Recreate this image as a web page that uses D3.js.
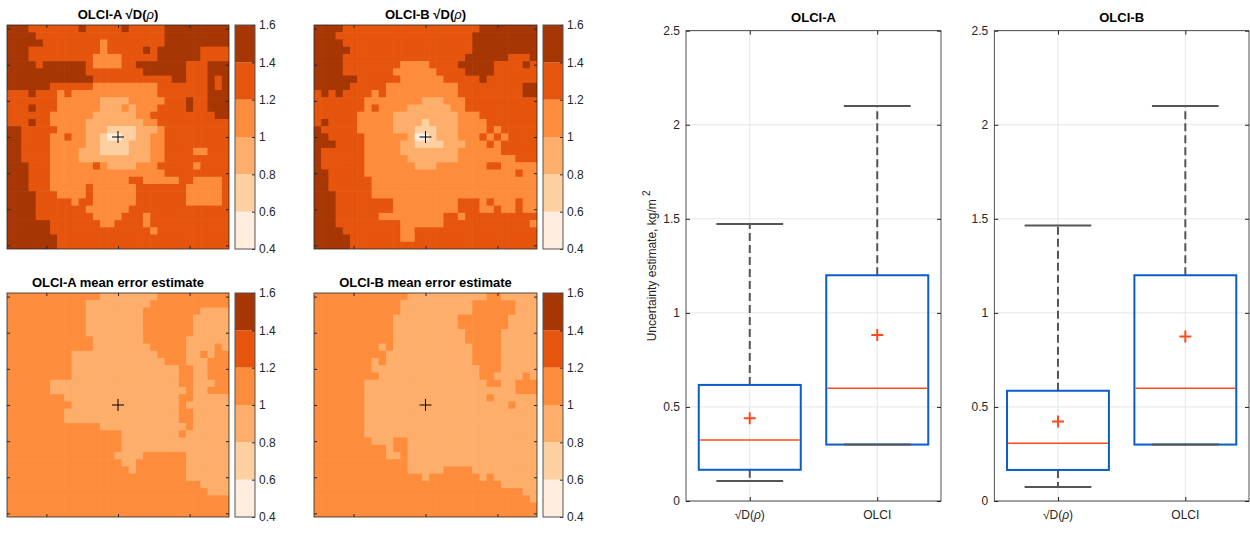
<!DOCTYPE html>
<html>
<head>
<meta charset="utf-8">
<script src="https://cdn.jsdelivr.net/npm/d3@7"></script>
<style>
  body { margin: 0; background: #fff; }
  svg { font-family: "Liberation Sans", Arial, sans-serif; }
</style>
</head>
<body>
<div id="chart"></div>
<script>
// class index per cell (0..5 -> bins 0.4-0.6 ... 1.4-1.6), rows run-length coded "class:count"
let gridSqrtA = [
  "5:3 4:7 5:1 4:5 5:1 4:5 5:9", "5:4 4:18 5:9", "5:5 4:8 3:1 4:8 5:9",
  "5:3 4:10 3:1 4:5 5:1 4:1 5:6 4:4", "5:3 4:9 3:4 4:5 5:6 4:4",
  "5:4 4:1 5:6 4:1 3:4 4:2 5:7 4:3 5:3", "5:11 4:8 5:6 4:3 5:3",
  "5:12 4:11 5:2 4:3 5:1 4:1 5:1", "5:6 4:6 3:9 4:7 5:1 4:1 5:1",
  "4:3 5:1 4:3 3:1 4:1 3:12 4:7 5:3",
  "4:7 3:6 2:4 3:5 4:3 5:1 4:2 5:3", "4:3 5:1 4:3 3:6 2:3 3:1 2:1 3:3 4:4 5:1 4:2 5:3",
  "4:6 3:6 2:6 3:2 4:9 5:2", "4:3 5:1 4:2 3:5 2:8 3:2 4:10",
  "5:2 4:5 3:4 2:3 1:4 2:3 3:1 4:9", "5:2 4:4 3:2 4:1 3:2 2:2 1:1 0:2 1:2 2:2 3:2 4:9",
  "5:2 4:4 3:5 2:2 1:4 2:3 3:2 4:9", "5:2 4:4 3:4 2:3 1:4 2:3 3:2 4:4 3:2 4:3",
  "5:2 4:4 3:4 2:10 3:2 4:9", "5:3 4:3 3:6 4:1 3:1 2:4 3:3 4:5 3:1 4:4",
  "5:3 4:3 3:16 4:9", "5:3 4:3 3:11 4:2 3:5 4:2 3:4 4:1",
  "5:3 4:3 3:5 4:1 3:6 4:7 3:5 4:1", "5:4 4:3 3:4 4:1 3:6 4:7 3:5 4:1",
  "5:4 4:5 3:1 4:2 3:6 4:7 3:5 4:1", "5:4 4:7 3:6 4:14",
  "5:4 4:8 3:4 4:3 3:1 4:11", "5:6 4:7 3:2 4:4 3:1 4:11",
  "5:6 4:14 3:1 4:10", "5:7 4:24", "5:7 4:24"
];
let gridSqrtB = [
  "5:4 4:19 5:8", "5:3 4:19 5:9", "5:4 4:18 5:9", "5:5 4:17 5:9", "5:4 4:17 5:6 4:3 5:1",
  "5:4 4:8 3:4 4:4 5:5 4:4 5:1 4:1", "5:4 4:7 3:6 4:4 5:4 4:6", "5:6 4:6 3:6 4:5 5:1 4:7",
  "5:5 4:5 3:10 4:9 5:2", "4:1 5:1 4:1 5:1 4:4 3:1 4:1 3:10 4:9 5:2",
  "4:7 3:8 2:3 3:3 4:10", "4:7 3:1 4:1 3:4 2:6 3:2 4:10", "4:6 3:5 2:9 3:3 4:8",
  "4:1 5:1 4:4 3:5 2:4 1:1 2:4 3:4 4:7", "5:1 4:5 3:5 2:3 1:3 2:3 3:4 4:1 3:1 4:5",
  "5:2 4:5 3:6 2:1 0:2 1:1 2:3 3:3 4:1 3:1 4:1 3:1 4:4",
  "5:3 4:4 3:5 2:2 1:4 2:3 3:3 4:1 3:1 4:5", "5:1 4:6 3:5 2:8 3:6 4:5",
  "5:1 4:6 3:6 2:7 3:8 4:3", "5:1 4:6 3:7 2:3 3:7 4:2 3:5",
  "5:2 4:5 3:21 4:1 3:2", "5:2 4:6 3:23", "5:2 4:6 3:23", "5:3 4:5 3:23",
  "5:3 4:8 3:9 4:3 3:1 4:1 3:3 4:1 3:2", "5:3 4:8 3:9 4:3 3:2 4:1 3:2 4:1 3:2",
  "5:3 4:6 3:9 4:2 3:1 4:10", "5:3 4:9 3:6 4:12 3:1", "5:4 4:8 3:2 4:17",
  "5:5 4:7 3:2 4:17", "5:5 4:26"
];
let gridMeanA = [
  "3:13 2:8 3:10", "3:11 2:9 3:11", "3:11 2:8 3:8 2:4", "3:11 2:8 3:7 2:5", "3:11 2:8 3:7 2:5",
  "3:11 2:8 3:7 2:5", "3:12 2:7 3:6 2:6", "3:12 2:8 3:5 2:4 3:1 2:1",
  "3:9 2:12 3:4 2:2 3:1 2:1 3:2", "3:9 2:13 3:3 2:3 3:3", "3:9 2:15 3:2 2:2 3:3",
  "3:9 2:15 3:2 2:2 3:3", "3:6 2:18 3:2 2:3 3:2", "3:6 2:19 3:1 2:2 3:3", "3:8 2:16 3:2 2:5",
  "3:9 2:15 3:1 2:6", "3:8 2:16 3:2 2:5", "3:8 2:16 3:2 2:5", "3:13 2:12 3:1 2:5",
  "3:16 2:8 3:1 2:6", "3:16 2:15", "3:16 2:15", "3:15 2:4 3:6 2:6", "3:16 2:2 3:7 2:6",
  "3:17 2:1 3:7 2:6", "3:25 2:6", "3:27 2:4", "3:28 2:3", "3:31", "3:31", "3:31"
];
let gridMeanB = [
  "3:13 2:11 3:2 2:5", "3:12 2:10 3:6 2:3", "3:12 2:10 3:6 2:3", "3:11 2:9 3:7 2:4",
  "3:11 2:9 3:7 2:4", "3:11 2:10 3:5 2:5", "3:11 2:10 3:5 2:5", "3:9 2:1 3:1 2:11 3:4 2:5",
  "3:10 2:12 3:4 2:5", "3:8 2:1 3:1 2:12 3:4 2:5", "3:8 2:15 3:3 2:5", "3:9 2:14 3:2 2:4 3:1 2:1",
  "3:7 2:17 3:2 2:2 3:3", "3:7 2:21 3:3", "3:7 2:17 3:1 2:6", "3:7 2:20 3:1 2:3",
  "3:7 2:24", "3:7 2:24", "3:7 2:24", "3:7 2:24", "3:8 2:3 3:2 2:18", "3:10 2:1 3:2 2:18",
  "3:10 2:2 3:1 2:18", "3:13 2:18", "3:13 2:5 3:4 2:9", "3:15 2:1 3:7 2:1 3:1 2:6",
  "3:26 2:5", "3:29 2:2", "3:30 2:1", "3:31", "3:31"
];

let binEdges = [0.4, 0.6, 0.8, 1.0, 1.2, 1.4, 1.6];
let binColors = ["#feedde", "#fdd0a2", "#fdae6b", "#fd8d3c", "#e6550d", "#a63603"];
let mapTicksX = [-10, 0, 10];
let mapTicksY = [-15, -10, -5, 0, 5, 10, 15];

// box plot statistics, per category [sqrtD, OLCI]
let boxCategories = ["sqrtD", "OLCI"];
let aLow = [0.106, 0.30], aQ1 = [0.166, 0.30], aMed = [0.324, 0.60], aQ3 = [0.617, 1.20], aHigh = [1.473, 2.10], aMean = [0.44, 0.883];
let bLow = [0.075, 0.30], bQ1 = [0.165, 0.30], bMed = [0.307, 0.60], bQ3 = [0.586, 1.20], bHigh = [1.464, 2.10], bMean = [0.422, 0.874];
let boxTicksY = [0, 0.5, 1, 1.5, 2, 2.5];

let textCol = "#262626";
let svg = d3.select("#chart").append("svg").attr("width", 1250).attr("height", 539);

function decodeRow(s) {
  let out = [];
  s.split(" ").forEach(p => {
    let [v, n] = p.split(":").map(Number);
    for (let k = 0; k < n; k++) out.push(v);
  });
  return out;
}

function mapTitle(g, x, y, prefix, rho, suffix) {
  let t = g.append("text").attr("x", x).attr("y", y).attr("text-anchor", "middle")
    .style("font-weight", "bold").style("font-size", "13px").attr("fill", "#000");
  t.append("tspan").text(prefix);
  if (rho) {
    t.append("tspan").style("font-style", "italic").style("font-weight", "normal").text("ρ");
    t.append("tspan").text(suffix);
  }
}

function drawMap(grid, x0, y0, w, h, title) {
  let g = svg.append("g");
  let xs = d3.scaleLinear().domain([-15.5, 15.5]).range([x0, x0 + w]);
  let ys = d3.scaleLinear().domain([-15.5, 15.5]).range([y0, y0 + h]);
  let color = d3.scaleOrdinal().domain(d3.range(6)).range(binColors);
  let cells = [];
  grid.forEach((row, i) => decodeRow(row).forEach((v, j) => cells.push({ i, j, v })));
  g.selectAll("rect.cell").data(cells).enter().append("rect")
    .attr("x", d => xs(d.j - 15.5))
    .attr("y", d => ys(d.i - 15.5))
    .attr("width", d => Math.min(xs(1) - xs(0) + 0.6, x0 + w - xs(d.j - 15.5)))
    .attr("height", d => Math.min(ys(1) - ys(0) + 0.6, y0 + h - ys(d.i - 15.5)))
    .attr("fill", d => color(d.v));

  let ax = [
    [d3.axisBottom(xs).tickValues(mapTicksX), `translate(0,${y0 + h})`],
    [d3.axisTop(xs).tickValues(mapTicksX), `translate(0,${y0})`],
    [d3.axisLeft(ys).tickValues(mapTicksY), `translate(${x0},0)`],
    [d3.axisRight(ys).tickValues(mapTicksY), `translate(${x0 + w},0)`]
  ];
  ax.forEach(([a, tr]) => {
    let ag = g.append("g").attr("transform", tr).call(a.tickSize(-3).tickFormat(""));
    ag.select(".domain").remove();
    ag.selectAll("line").attr("stroke", textCol);
  });
  g.append("rect").attr("x", x0).attr("y", y0).attr("width", w).attr("height", h)
    .attr("fill", "none").attr("stroke", textCol).attr("stroke-width", 0.8);

  // centre marker
  let cx = xs(0), cy = ys(0);
  g.append("path").attr("d", `M${cx - 6},${cy}H${cx + 6}M${cx},${cy - 6}V${cy + 6}`)
    .attr("stroke", "#000").attr("stroke-width", 1);

  mapTitle(g, x0 + w / 2, y0 - 6, ...title);
}

function drawColorbar(x0, y0, w, h) {
  let g = svg.append("g");
  let cy = d3.scaleLinear().domain([0.4, 1.6]).range([y0 + h, y0]);
  g.selectAll("rect.bin").data(binColors).enter().append("rect")
    .attr("x", x0).attr("width", w)
    .attr("y", (d, k) => cy(binEdges[k + 1]))
    .attr("height", (d, k) => cy(binEdges[k]) - cy(binEdges[k + 1]))
    .attr("fill", d => d);
  let ag = g.append("g").attr("transform", `translate(${x0 + w},0)`)
    .call(d3.axisRight(cy).tickValues(binEdges).tickSize(-3).tickPadding(4).tickFormat(d => String(+d.toFixed(1))));
  ag.select(".domain").remove();
  ag.selectAll("line").attr("stroke", textCol);
  ag.selectAll("text").attr("fill", textCol).style("font-size", "12px").style("font-family", "Liberation Sans, Arial, sans-serif");
  g.append("rect").attr("x", x0).attr("y", y0).attr("width", w).attr("height", h)
    .attr("fill", "none").attr("stroke", "#555").attr("stroke-width", 1);
}

drawMap(gridSqrtA, 7, 25, 222, 224, ["OLCI-A √D(", true, ")"]);
drawMap(gridSqrtB, 314, 25, 223, 224, ["OLCI-B √D(", true, ")"]);
drawMap(gridMeanA, 7, 293, 222, 224, ["OLCI-A mean error estimate", false]);
drawMap(gridMeanB, 314, 293, 223, 224, ["OLCI-B mean error estimate", false]);
drawColorbar(235, 25, 20, 224);
drawColorbar(543, 25, 20, 224);
drawColorbar(235, 293, 20, 224);
drawColorbar(543, 293, 20, 224);

function drawBoxes(x0, x1, title, low, q1, med, q3, high, mean, yLabel) {
  let top = 30.7, bottom = 501;
  let g = svg.append("g");
  let xs = d3.scaleLinear().domain([0.5, 2.5]).range([x0, x1]);
  let ys = d3.scaleLinear().domain([0, 2.5]).range([bottom, top]);
  let cats = [1, 2];

  // grid
  g.selectAll("line.gy").data(boxTicksY).enter().append("line")
    .attr("x1", x0).attr("x2", x1).attr("y1", d => ys(d)).attr("y2", d => ys(d))
    .attr("stroke", "#e6e6e6").attr("stroke-width", 1);
  g.selectAll("line.gx").data(cats).enter().append("line")
    .attr("x1", d => xs(d)).attr("x2", d => xs(d)).attr("y1", top).attr("y2", bottom)
    .attr("stroke", "#e6e6e6").attr("stroke-width", 1);

  // axes
  let axes = [
    [d3.axisLeft(ys).tickValues(boxTicksY).tickFormat(d => String(d)), `translate(${x0},0)`],
    [d3.axisRight(ys).tickValues(boxTicksY).tickFormat(""), `translate(${x1},0)`],
    [d3.axisBottom(xs).tickValues(cats).tickFormat(""), `translate(0,${bottom})`],
    [d3.axisTop(xs).tickValues(cats).tickFormat(""), `translate(0,${top})`]
  ];
  axes.forEach(([a, tr]) => {
    let ag = g.append("g").attr("transform", tr).call(a.tickSize(-4).tickPadding(6));
    ag.select(".domain").remove();
    ag.selectAll("line").attr("stroke", textCol);
    ag.selectAll("text").attr("fill", textCol).style("font-size", "12px")
      .style("font-family", "Liberation Sans, Arial, sans-serif");
  });
  // category labels
  cats.forEach((c, k) => {
    let t = g.append("text").attr("x", xs(c)).attr("y", bottom + 18).attr("text-anchor", "middle")
      .attr("fill", textCol).style("font-size", "12px");
    if (boxCategories[k] === "sqrtD") {
      t.append("tspan").text("√D(");
      t.append("tspan").style("font-style", "italic").text("ρ");
      t.append("tspan").text(")");
    } else {
      t.text(boxCategories[k]);
    }
  });
  g.append("rect").attr("x", x0).attr("y", top).attr("width", x1 - x0).attr("height", bottom - top)
    .attr("fill", "none").attr("stroke", textCol).attr("stroke-width", 0.8);

  let half = 0.4, capHalf = 0.262;
  cats.forEach((c, k) => {
    let cx = xs(c);
    // whiskers
    g.append("line").attr("x1", cx).attr("x2", cx).attr("y1", ys(q3[k])).attr("y2", ys(high[k]))
      .attr("stroke", "#555").attr("stroke-width", 2).attr("stroke-dasharray", "8,4");
    g.append("line").attr("x1", cx).attr("x2", cx).attr("y1", ys(q1[k])).attr("y2", ys(low[k]))
      .attr("stroke", "#555").attr("stroke-width", 2).attr("stroke-dasharray", "8,4");
    // box
    g.append("rect").attr("x", xs(c - half)).attr("width", xs(c + half) - xs(c - half))
      .attr("y", ys(q3[k])).attr("height", ys(q1[k]) - ys(q3[k]))
      .attr("fill", "none").attr("stroke", "#0a5ec8").attr("stroke-width", 2);
    // caps
    [low[k], high[k]].forEach(v => {
      g.append("line").attr("x1", xs(c - capHalf)).attr("x2", xs(c + capHalf))
        .attr("y1", ys(v)).attr("y2", ys(v)).attr("stroke", "#555").attr("stroke-width", 2);
    });
    // median
    g.append("line").attr("x1", xs(c - half) + 1).attr("x2", xs(c + half) - 1)
      .attr("y1", ys(med[k])).attr("y2", ys(med[k])).attr("stroke", "#ff4a1c").attr("stroke-width", 1.5);
    // mean
    let my = ys(mean[k]);
    g.append("path").attr("d", `M${cx - 6},${my}H${cx + 6}M${cx},${my - 6}V${my + 6}`)
      .attr("stroke", "#ff4a1c").attr("stroke-width", 2);
  });

  g.append("text").attr("x", (x0 + x1) / 2).attr("y", 22).attr("text-anchor", "middle")
    .style("font-weight", "bold").style("font-size", "13px").attr("fill", "#000").text(title);

  if (yLabel) {
    let t = g.append("text").attr("transform", `translate(${x0 - 30},${(top + bottom) / 2}) rotate(-90)`)
      .attr("text-anchor", "middle").attr("fill", textCol).style("font-size", "12px");
    t.append("tspan").text("Uncertainty estimate, kg/m ");
    t.append("tspan").attr("dy", -6).style("font-size", "10px").text("2");
  }
}
drawBoxes(686, 941, "OLCI-A", aLow, aQ1, aMed, aQ3, aHigh, aMean, true);
drawBoxes(994.3, 1249, "OLCI-B", bLow, bQ1, bMed, bQ3, bHigh, bMean, false);
</script>
</body>
</html>
